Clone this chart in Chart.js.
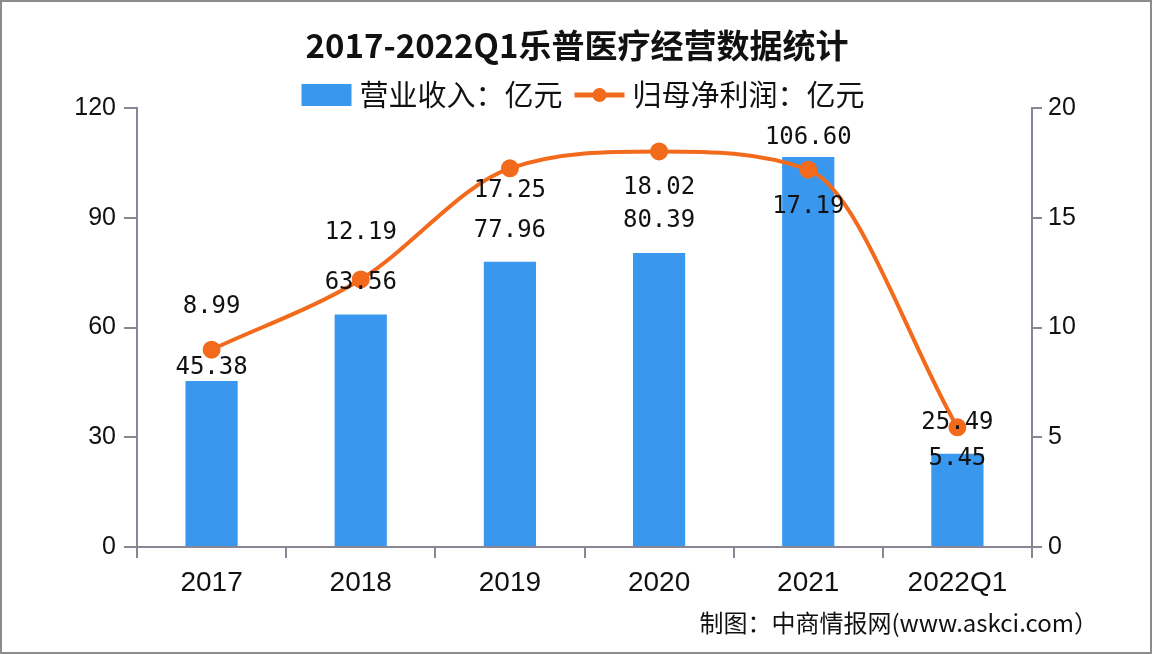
<!DOCTYPE html>
<html><head><meta charset="utf-8">
<script src="https://cdn.jsdelivr.net/npm/chart.js@4.4.0/dist/chart.umd.min.js"></script>
<style>html,body{margin:0;padding:0;background:#fff}#wrap{width:1152px;height:654px;position:relative}canvas{display:block}</style>
</head><body><div id="wrap"><canvas id="c" width="1152" height="654"></canvas></div>
<script>
const categories = ['2017', '2018', '2019', '2020', '2021', '2022Q1'];
const revenue = [45.38, 63.56, 77.96, 80.39, 106.60, 25.49];
const netProfit = [8.99, 12.19, 17.25, 18.02, 17.19, 5.45];
const titleText = '2017-2022Q1乐普医疗经营数据统计';
const seriesNames = ['营业收入：亿元', '归母净利润：亿元'];
const sourceText = '制图：中商情报网(www.askci.com）';

const BLUE = '#3a97ee';
const ORANGE = '#f26b1d';
const AXIS = '#8a8494';
// label vertical offsets (style): label centre relative to mark
const barLabelDy = [-13, -32, -31, -32, -19, -31];
const lineLabelDy = [-43, -47, 22, 36, 37, 31];

const decor = {
  id: 'decor',
  afterDatasetsDraw(chart) {
    const ctx = chart.ctx;
    ctx.save();
    ctx.fillStyle = '#111';
    ctx.textAlign = 'center';
    ctx.textBaseline = 'middle';
    ctx.font = '24px "DejaVu Sans Mono", monospace';
    const barMeta = chart.getDatasetMeta(0);
    barMeta.data.forEach((el, i) => {
      ctx.fillText(revenue[i].toFixed(2), el.x, el.y + barLabelDy[i]);
    });
    const lineMeta = chart.getDatasetMeta(1);
    lineMeta.data.forEach((el, i) => {
      ctx.fillText(netProfit[i].toFixed(2), el.x, el.y + lineLabelDy[i]);
    });
    ctx.restore();
  },
  afterDraw(chart) {
    const ctx = chart.ctx;
    ctx.save();
    // title
    ctx.fillStyle = '#111';
    ctx.textAlign = 'center';
    ctx.textBaseline = 'middle';
    ctx.font = 'bold 33px "Noto Sans CJK SC", sans-serif';
    ctx.fillText(titleText, 577, 45);
    // legend
    ctx.font = '29px "Noto Sans CJK SC", sans-serif';
    const w1 = ctx.measureText(seriesNames[0]).width;
    const w2 = ctx.measureText(seriesNames[1]).width;
    const total = 50 + 8 + w1 + 12 + 50 + 8 + w2;
    let x = 583 - total / 2;
    const ly = 95;
    ctx.fillStyle = BLUE;
    ctx.fillRect(x, ly - 11, 50, 22);
    x += 58;
    ctx.fillStyle = '#111';
    ctx.textAlign = 'left';
    ctx.fillText(seriesNames[0], x, ly);
    x += w1 + 12;
    ctx.strokeStyle = ORANGE;
    ctx.lineWidth = 5;
    ctx.beginPath(); ctx.moveTo(x, ly); ctx.lineTo(x + 50, ly); ctx.stroke();
    ctx.fillStyle = ORANGE;
    ctx.beginPath(); ctx.arc(x + 25, ly, 7, 0, Math.PI * 2); ctx.fill();
    x += 58;
    ctx.fillStyle = '#111';
    ctx.fillText(seriesNames[1], x, ly);
    // source
    ctx.textAlign = 'right';
    ctx.font = '24px "Noto Sans CJK SC", sans-serif';
    ctx.fillText(sourceText, 1098, 623);
    // frame
    ctx.strokeStyle = '#8c8c8c';
    ctx.lineWidth = 2;
    ctx.strokeRect(1, 1, 1150, 652);
    ctx.restore();
  }
};

new Chart(document.getElementById('c'), {
  data: {
    labels: categories,
    datasets: [
      {
        type: 'bar', label: seriesNames[0], data: revenue, yAxisID: 'y',
        backgroundColor: BLUE, barPercentage: 0.35, categoryPercentage: 1, order: 2
      },
      {
        type: 'line', label: seriesNames[1], data: netProfit, yAxisID: 'y1',
        borderColor: ORANGE, backgroundColor: ORANGE, borderWidth: 4,
        pointRadius: 7, pointBackgroundColor: ORANGE, pointBorderColor: ORANGE,
        cubicInterpolationMode: 'monotone', order: 1
      }
    ]
  },
  options: {
    responsive: false,
    animation: false,
    devicePixelRatio: 1,
    layout: { padding: { top: 108, left: 0, right: 0, bottom: 0 } },
    plugins: { legend: { display: false }, title: { display: false }, tooltip: { enabled: false } },
    scales: {
      x: {
        offset: true,
        grid: { display: true, drawOnChartArea: false, drawTicks: true, tickLength: 11, color: AXIS, lineWidth: 2, offset: true },
        border: { color: AXIS, width: 2 },
        ticks: { color: '#111', padding: 8, font: { family: '"Liberation Sans Narrow", "Liberation Sans", sans-serif', size: 28 } },
        afterFit(s) { s.height = 107; }
      },
      y: {
        position: 'left', min: 0, max: 120,
        ticks: { stepSize: 30, color: '#111', padding: 8, font: { family: '"Liberation Sans", sans-serif', size: 25 } },
        grid: { drawOnChartArea: false, drawTicks: true, tickLength: 13, color: AXIS, lineWidth: 2 },
        border: { color: AXIS, width: 2 },
        afterFit(s) { s.width = 137; }
      },
      y1: {
        position: 'right', min: 0, max: 20,
        ticks: { stepSize: 5, color: '#111', padding: 6, font: { family: '"Liberation Sans", sans-serif', size: 25 } },
        grid: { drawOnChartArea: false, drawTicks: true, tickLength: 10, color: AXIS, lineWidth: 2 },
        border: { color: AXIS, width: 2 },
        afterFit(s) { s.width = 120; }
      }
    }
  },
  plugins: [decor]
});
</script>
</body></html>
